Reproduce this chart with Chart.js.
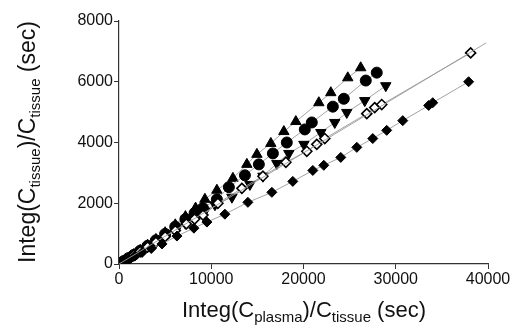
<!DOCTYPE html>
<html lang="en">
<head>
    <meta charset="UTF-8">
    <title>Integ plot</title>
    <script src="https://cdn.jsdelivr.net/npm/chart.js"></script>
    <style>
        body {
            margin: 0;
            background: #fff;
        }
        #wrap {
            width: 516px;
            height: 332px;
        }
    </style>
</head>
<body>
    <div id="wrap">
        <canvas id="plot" width="516" height="332"></canvas>
    </div>

    <script>
        // Values (x = Integ(Cplasma)/Ctissue, y = Integ(Ctissue)/Ctissue)
        const triUpX = [150, 500, 1000, 1600, 2300, 3100, 4000, 5000, 6100, 7200, 8300, 9310, 10610, 12350, 13860, 14950, 16460, 17870, 19170, 21660, 22960, 24800, 26200];
        const triUpY = [30, 95, 190, 310, 450, 620, 810, 1030, 1290, 1560, 1840, 2130, 2430, 2820, 3280, 3610, 3970, 4360, 4690, 5310, 5640, 6130, 6460];

        const circleX = [150, 500, 1000, 1600, 2300, 3100, 4000, 5000, 6100, 7200, 8200, 9100, 10610, 11910, 13650, 15160, 16680, 18190, 20140, 20900, 23180, 24370, 26750, 27940];
        const circleY = [30, 95, 190, 300, 440, 600, 780, 990, 1230, 1480, 1680, 1840, 2130, 2530, 2920, 3280, 3640, 4000, 4430, 4660, 5180, 5440, 6040, 6300];

        const triDownX = [150, 500, 1000, 1600, 2300, 3100, 4000, 5000, 6100, 7200, 8400, 9300, 10400, 12240, 14190, 15600, 17110, 18410, 20040, 21880, 23390, 24690, 26640, 28920];
        const triDownY = [28, 90, 180, 290, 420, 570, 740, 930, 1130, 1340, 1560, 1740, 1950, 2200, 2620, 2890, 3310, 3640, 3940, 4330, 4660, 4990, 5380, 5870];

        const openDiaX = [150, 500, 1000, 1600, 2300, 3100, 4000, 5000, 6100, 7300, 8200, 9100, 10720, 13320, 15600, 18090, 20360, 21440, 22310, 26860, 27720, 28480, 38120];
        const openDiaY = [28, 90, 180, 290, 410, 560, 720, 900, 1100, 1320, 1480, 1610, 2000, 2490, 2890, 3350, 3710, 3940, 4130, 4950, 5150, 5250, 6950];
        // fitted line through the open diamonds runs past the last point
        const openFitX = [0, 39800];
        const openFitY = [0, 7280];

        const fillDiaX = [150, 500, 1000, 1700, 2500, 3500, 4660, 6280, 8120, 9530, 11480, 13970, 16570, 18840, 21010, 22200, 24040, 25780, 27510, 29020, 30760, 33570, 34010, 37900];
        const fillDiaY = [25, 80, 150, 260, 380, 510, 660, 920, 1180, 1380, 1640, 2030, 2360, 2720, 3080, 3250, 3510, 3840, 4130, 4400, 4720, 5220, 5310, 6000];

        const xTicks = [0, 10000, 20000, 30000, 40000];
        const yTicks = [0, 2000, 4000, 6000, 8000];

        const FONT = '"Liberation Sans", Arial, sans-serif';

        function pts(xs, ys) {
            return xs.map((x, i) => ({ x: x, y: ys[i] }));
        }

        function series(xs, ys, style, fill, radius, rotation) {
            return {
                data: pts(xs, ys),
                showLine: true,
                borderColor: '#999',
                borderWidth: 0.9,
                pointStyle: style,
                pointRadius: radius,
                pointRotation: rotation || 0,
                pointBackgroundColor: fill,
                pointBorderColor: '#000',
                pointBorderWidth: fill === '#fff' ? 1.6 : 1
            };
        }

        // draws a string made of normal and subscript parts, centred on 0
        function drawParts(ctx, parts, big, small) {
            const w = parts.map(p => {
                ctx.font = (p.sub ? small : big) + 'px ' + FONT;
                return ctx.measureText(p.t).width;
            });
            const total = w.reduce((a, b) => a + b, 0);
            let x = -total / 2;
            parts.forEach((p, i) => {
                ctx.font = (p.sub ? small : big) + 'px ' + FONT;
                ctx.fillText(p.t, x, p.sub ? 5 : 0);
                x += w[i];
            });
        }

        const axisTitles = {
            id: 'axisTitles',
            afterDraw(chart) {
                const ctx = chart.ctx;
                ctx.save();
                ctx.fillStyle = '#111';
                ctx.textBaseline = 'alphabetic';
                ctx.textAlign = 'left';

                ctx.save();
                ctx.translate(304, 317);
                drawParts(ctx, [
                    { t: 'Integ(C' }, { t: 'plasma', sub: true },
                    { t: ')/C' }, { t: 'tissue', sub: true }, { t: ' (sec)' }
                ], 22, 15);
                ctx.restore();

                ctx.save();
                ctx.translate(35, 142);
                ctx.rotate(-Math.PI / 2);
                drawParts(ctx, [
                    { t: 'Integ(C' }, { t: 'tissue', sub: true },
                    { t: ')/C' }, { t: 'tissue', sub: true }, { t: ' (sec)' }
                ], 23, 15);
                ctx.restore();

                ctx.restore();
            }
        };

        const ctx = document.getElementById('plot').getContext('2d');

        new Chart(ctx, {
            type: 'scatter',
            data: {
                datasets: [
                    {
                        data: pts(openFitX, openFitY),
                        showLine: true,
                        borderColor: '#999',
                        borderWidth: 0.9,
                        pointRadius: 0
                    },
                    series(fillDiaX, fillDiaY, 'rectRot', '#000', 5),
                    series(openDiaX, openDiaY, 'rectRot', '#fff', 5),
                    series(triDownX, triDownY, 'triangle', '#000', 6, 180),
                    series(circleX, circleY, 'circle', '#000', 5.5),
                    series(triUpX, triUpY, 'triangle', '#000', 6)
                ]
            },
            options: {
                responsive: false,
                animation: false,
                layout: {
                    padding: { top: 21, right: 28, left: 0, bottom: 0 }
                },
                plugins: {
                    legend: { display: false },
                    tooltip: { enabled: false }
                },
                scales: {
                    x: {
                        type: 'linear',
                        min: xTicks[0],
                        max: xTicks[xTicks.length - 1],
                        afterBuildTicks: s => { s.ticks = xTicks.map(v => ({ value: v })); },
                        afterFit: s => { s.height = 68; },
                        ticks: {
                            color: '#111',
                            padding: 1,
                            maxRotation: 0,
                            callback: v => String(v),
                            font: { family: FONT, size: 16 }
                        },
                        grid: { drawOnChartArea: false, tickLength: 5, color: '#333' },
                        border: { color: '#333', width: 1.2 }
                    },
                    y: {
                        min: yTicks[0],
                        max: yTicks[yTicks.length - 1],
                        afterBuildTicks: s => { s.ticks = yTicks.map(v => ({ value: v })); },
                        afterFit: s => { s.width = 119; },
                        ticks: {
                            color: '#111',
                            padding: 1,
                            callback: v => String(v),
                            font: { family: FONT, size: 16 }
                        },
                        grid: { drawOnChartArea: false, tickLength: 5, color: '#333' },
                        border: { color: '#333', width: 1.2 }
                    }
                }
            },
            plugins: [axisTitles]
        });
    </script>
</body>
</html>
